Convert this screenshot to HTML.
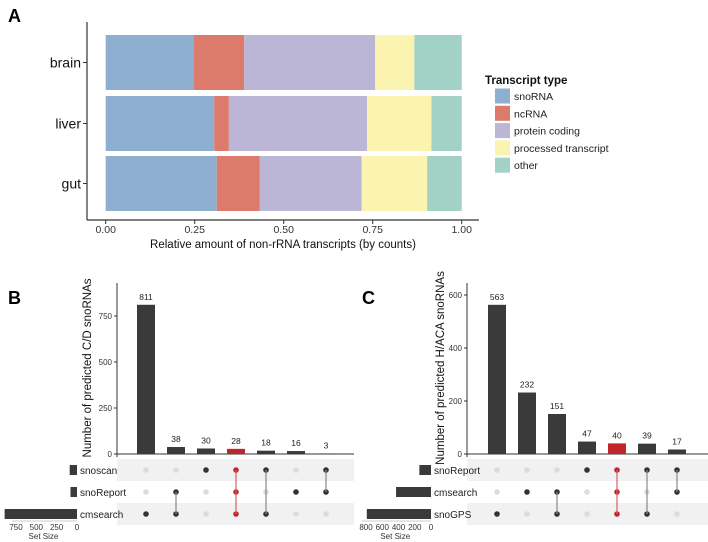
<!DOCTYPE html>
<html><head><meta charset="utf-8"><style>
body{margin:0;background:#fff;}
svg{display:block;font-family:"Liberation Sans",Arial,sans-serif;}
</style></head><body>
<svg id="fig" width="708" height="542" viewBox="0 0 708 542"></svg>
<script>
// Panel A data
const tissues=["brain","liver","gut"];
const types=["snoRNA","ncRNA","protein coding","processed transcript","other"];
const typeColors=["#8eafcf","#dc7a6c","#bbb5d6","#faf4b0","#a2d1c5"];
const snoRNAFrac=[0.248,0.305,0.312];
const ncRNAFrac=[0.141,0.041,0.120];
const proteinFrac=[0.368,0.388,0.287];
const processedFrac=[0.110,0.181,0.184];
const otherFrac=[0.133,0.085,0.097];
const xTicksA=[0,0.25,0.5,0.75,1];
// Panel B data
const bCounts=[811,38,30,28,18,16,3];
const bSets=["snoscan","snoReport","cmsearch"];
const bSetSizes=[90,80,890];
const bMembers=[[2],[1,2],[0],[0,1,2],[0,2],[1],[0,1]];
const bTicks=[0,250,500,750];
const bSizeTicks=[750,500,250,0];
// Panel C data
const cCounts=[563,232,151,47,40,39,17];
const cSets=["snoReport","cmsearch","snoGPS"];
const cSetSizes=[143,430,790];
const cMembers=[[2],[1],[1,2],[0],[0,1,2],[0,2],[0,1]];
const cTicks=[0,200,400,600];
const cSizeTicks=[800,600,400,200,0];

const svg=document.getElementById('fig');
const NS="http://www.w3.org/2000/svg";
function mk(tag,attrs,name,parent,text){
  const e=document.createElementNS(NS,tag);
  for(const k in attrs)e.setAttribute(k,attrs[k]);
  
  
  if(text!==undefined)e.textContent=text;
  (parent||svg).appendChild(e);return e;
}
mk('text',{x:8,y:22,'font-size':18,'font-weight':'bold'},'panel-label-a',null,'A');
mk('text',{x:8,y:304,'font-size':18,'font-weight':'bold'},'panel-label-b',null,'B');
mk('text',{x:362,y:304,'font-size':18,'font-weight':'bold'},'panel-label-c',null,'C');

// Panel A
const ax=v=>105.7+v*356;
const barY=[35,96,156], barH=55;
const series=[snoRNAFrac,ncRNAFrac,proteinFrac,processedFrac,otherFrac];
tissues.forEach((t,i)=>{
  let cum=0;
  series.forEach((s,j)=>{
    mk('rect',{x:ax(cum),y:barY[i],width:ax(cum+s[i])-ax(cum),height:barH,fill:typeColors[j]},'bar-'+t+'-'+j);
    cum+=s[i];
  });
  mk('line',{x1:83,x2:87,y1:barY[i]+barH/2,y2:barY[i]+barH/2,stroke:'#333'},'y-tick-a');
  mk('text',{x:81,y:barY[i]+barH/2+5,'font-size':14,'text-anchor':'end',fill:'#111'},'y-label-'+t,null,t);
});
mk('line',{x1:87,x2:87,y1:22,y2:220,stroke:'#333','stroke-width':1.2},'y-axis-a');
mk('line',{x1:87,x2:479,y1:220,y2:220,stroke:'#333','stroke-width':1.2},'x-axis-a');
xTicksA.forEach(v=>{
  mk('line',{x1:ax(v),x2:ax(v),y1:220,y2:224,stroke:'#333'},'x-tick-a');
  mk('text',{x:ax(v),y:233,'font-size':10.5,'text-anchor':'middle',fill:'#333'},'x-tick-label-a',null,v.toFixed(2));
});
mk('text',{x:283,y:248,'font-size':11.5,'text-anchor':'middle',fill:'#111'},'x-axis-title-a',null,'Relative amount of non-rRNA transcripts (by counts)');
mk('text',{x:485,y:84,'font-size':11.5,'font-weight':'bold',fill:'#111'},'legend-title',null,'Transcript type');
types.forEach((t,j)=>{
  const y=96+j*17.3;
  mk('rect',{x:495,y:y-7.5,width:15,height:15,fill:typeColors[j]},'legend-swatch-'+j);
  mk('text',{x:514,y:y+4,'font-size':10.5,fill:'#222'},'legend-entry-'+j,null,t);
});

function upset(o){
  const base=454, rows=[470,492,514];
  const yS=v=>base-v*o.k;
  const cx=i=>o.x0+i*30;
  rows.forEach((ry,r)=>{
    if(r%2===0) mk('rect',{x:o.axisX,y:ry-11,width:o.bandW,height:22,fill:'#f1f1f1'},'row-band');
  });
  mk('line',{x1:o.axisX,x2:o.axisX,y1:o.top,y2:base+3,stroke:'#333'},'y-axis-'+o.id);
  mk('line',{x1:o.axisX,x2:o.axisX+o.bandW,y1:base,y2:base,stroke:'#333'},'x-axis-'+o.id);
  o.ticks.forEach(v=>{
    mk('line',{x1:o.axisX-3,x2:o.axisX,y1:yS(v),y2:yS(v),stroke:'#333'},'y-tick-'+o.id);
    mk('text',{x:o.axisX-5,y:yS(v)+3,'font-size':8,'text-anchor':'end',fill:'#333'},'y-tick-label-'+o.id,null,v);
  });
  mk('text',{x:0,y:0,'font-size':11.5,'text-anchor':'middle',fill:'#111',transform:`translate(${o.titleX},${o.titleY}) rotate(-90)`},'y-axis-title-'+o.id,null,o.title);
  o.counts.forEach((c,i)=>{
    const red=o.members[i].length===3;
    mk('rect',{x:cx(i)-9,y:yS(c),width:18,height:base-yS(c),fill:red?'#c0272d':'#3a3a3a'},'bar-'+o.id+'-'+i);
    mk('text',{x:cx(i),y:yS(c)-5,'font-size':8.5,'text-anchor':'middle',fill:'#222'},'bar-value-'+o.id,null,c);
    const m=o.members[i];
    rows.forEach((ry,r)=>{
      const on=m.includes(r);
      mk('circle',{cx:cx(i),cy:ry,r:2.8,fill:on?(red?'#c0272d':'#333'):'#dcdcdc'},'matrix-dot-'+o.id);
    });
    if(m.length>1){
      const ys=m.map(r=>rows[r]);
      mk('line',{x1:cx(i),x2:cx(i),y1:Math.min(...ys),y2:Math.max(...ys),stroke:red?'#d0606a':'#888','stroke-width':1.2},'matrix-link-'+o.id);
    }
  });
  o.sets.forEach((s,r)=>{
    const w=o.sizes[r]*o.sk;
    mk('rect',{x:o.size0-w,y:rows[r]-5,width:w,height:10,fill:'#3a3a3a'},'set-size-bar-'+s);
    mk('text',{x:o.size0+3,y:rows[r]+4,'font-size':10,fill:'#222'},'set-label-'+s,null,s);
  });
  mk('line',{x1:o.size0-o.sizeTicks[0]*o.sk-4,x2:o.size0,y1:521,y2:521,stroke:'#999','stroke-width':0.6},'set-size-axis-'+o.id);
  o.sizeTicks.forEach(v=>{
    mk('text',{x:o.size0-v*o.sk,y:530,'font-size':8,'text-anchor':'middle',fill:'#333'},'set-size-tick-'+o.id,null,v);
  });
  mk('text',{x:o.size0-o.sizeTicks[0]*o.sk*0.55,y:539,'font-size':8,'text-anchor':'middle',fill:'#333'},'set-size-title-'+o.id,null,'Set Size');
}
upset({id:'b',counts:bCounts,members:bMembers,sets:bSets,sizes:bSetSizes,ticks:bTicks,sizeTicks:bSizeTicks,
  k:138/750,x0:146,axisX:117,top:283,bandW:237,titleX:91,titleY:368,title:'Number of predicted C/D snoRNAs',
  size0:77,sk:61/750});
upset({id:'c',counts:cCounts,members:cMembers,sets:cSets,sizes:cSetSizes,ticks:cTicks,sizeTicks:cSizeTicks,
  k:159/600,x0:497,axisX:467,top:283,bandW:241,titleX:444,titleY:368,title:'Number of predicted H/ACA snoRNAs',
  size0:431,sk:65/800});
</script>
</body></html>
